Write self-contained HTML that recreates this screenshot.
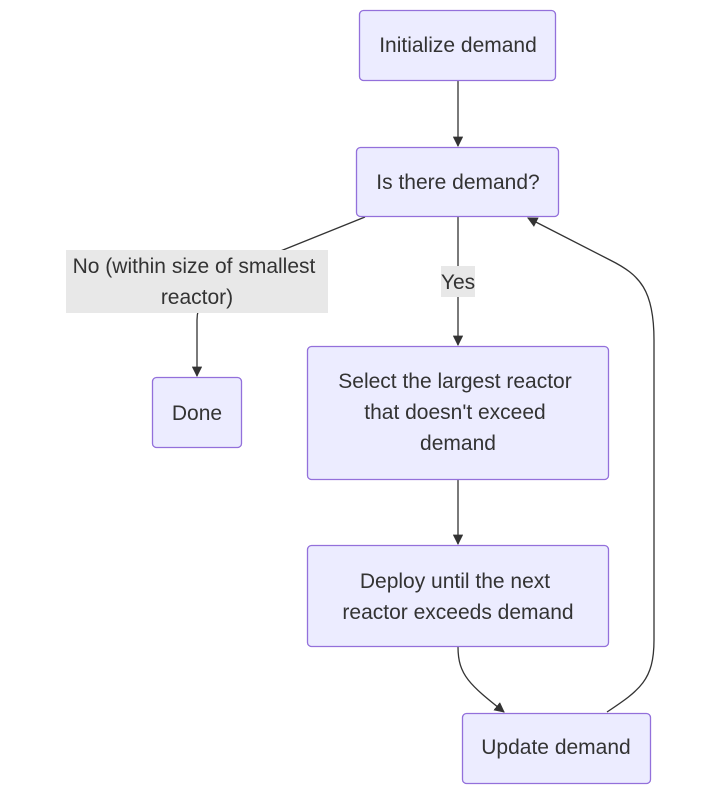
<!DOCTYPE html>
<html><head><meta charset="utf-8"><style>
body{margin:0;background:#fff;width:720px;height:794px;overflow:hidden;font-family:"Liberation Sans",Arial,sans-serif;}
svg text{font-family:"Liberation Sans",Arial,sans-serif;font-size:21px;fill:#333;}
</style></head><body>
<svg width="720" height="794" viewBox="0 0 720 794" xmlns="http://www.w3.org/2000/svg">
<defs><marker id="a" viewBox="0 0 10 10" refX="9" refY="5" markerWidth="8" markerHeight="8" orient="auto"><path d="M0,0L10,5L0,10z" fill="#333"/></marker></defs>
<g fill="none" stroke="#333" stroke-width="1.3">
<path d="M458,81V146" marker-end="url(#a)"/>
<path d="M458,217V345" marker-end="url(#a)"/>
<path d="M458,479V544" marker-end="url(#a)"/>
<path d="M365,217L283,250C230,270 197,290 197,320V376" marker-end="url(#a)"/>
<path d="M458,647C458,675 470,685 504,712" marker-end="url(#a)"/>
<path d="M607,712C640,690 654,680 654,640V340C654,290 640,275 610,260L528,218" marker-end="url(#a)"/>
</g>
<rect x="66" y="250" width="262" height="63" fill="#e8e8e8"/>
<text x="194" y="273" text-anchor="middle">No (within size of smallest</text>
<text x="197" y="304" text-anchor="middle">reactor)</text>
<rect x="441" y="266" width="34" height="31" fill="#e8e8e8"/>
<text x="458" y="289" text-anchor="middle">Yes</text>
<g fill="#ECECFF" stroke="#9370DB" stroke-width="1.3">
<rect x="359.5" y="10.5" width="196" height="70" rx="4"/>
<rect x="356.5" y="147.5" width="202" height="69" rx="4"/>
<rect x="152.5" y="377.5" width="89" height="70" rx="4"/>
<rect x="307.5" y="346.5" width="301" height="133" rx="4"/>
<rect x="307.5" y="545.5" width="301" height="101" rx="4"/>
<rect x="462.5" y="713.5" width="188" height="70" rx="4"/>
</g>
<text x="458" y="52" text-anchor="middle">Initialize demand</text>
<text x="458" y="189" text-anchor="middle">Is there demand?</text>
<text x="197" y="420" text-anchor="middle">Done</text>
<text x="455" y="388" text-anchor="middle">Select the largest reactor</text>
<text x="455" y="419" text-anchor="middle">that doesn't exceed</text>
<text x="458" y="450" text-anchor="middle">demand</text>
<text x="455" y="588" text-anchor="middle">Deploy until the next</text>
<text x="458" y="619" text-anchor="middle">reactor exceeds demand</text>
<text x="556" y="754" text-anchor="middle">Update demand</text>
</svg>
</body></html>
